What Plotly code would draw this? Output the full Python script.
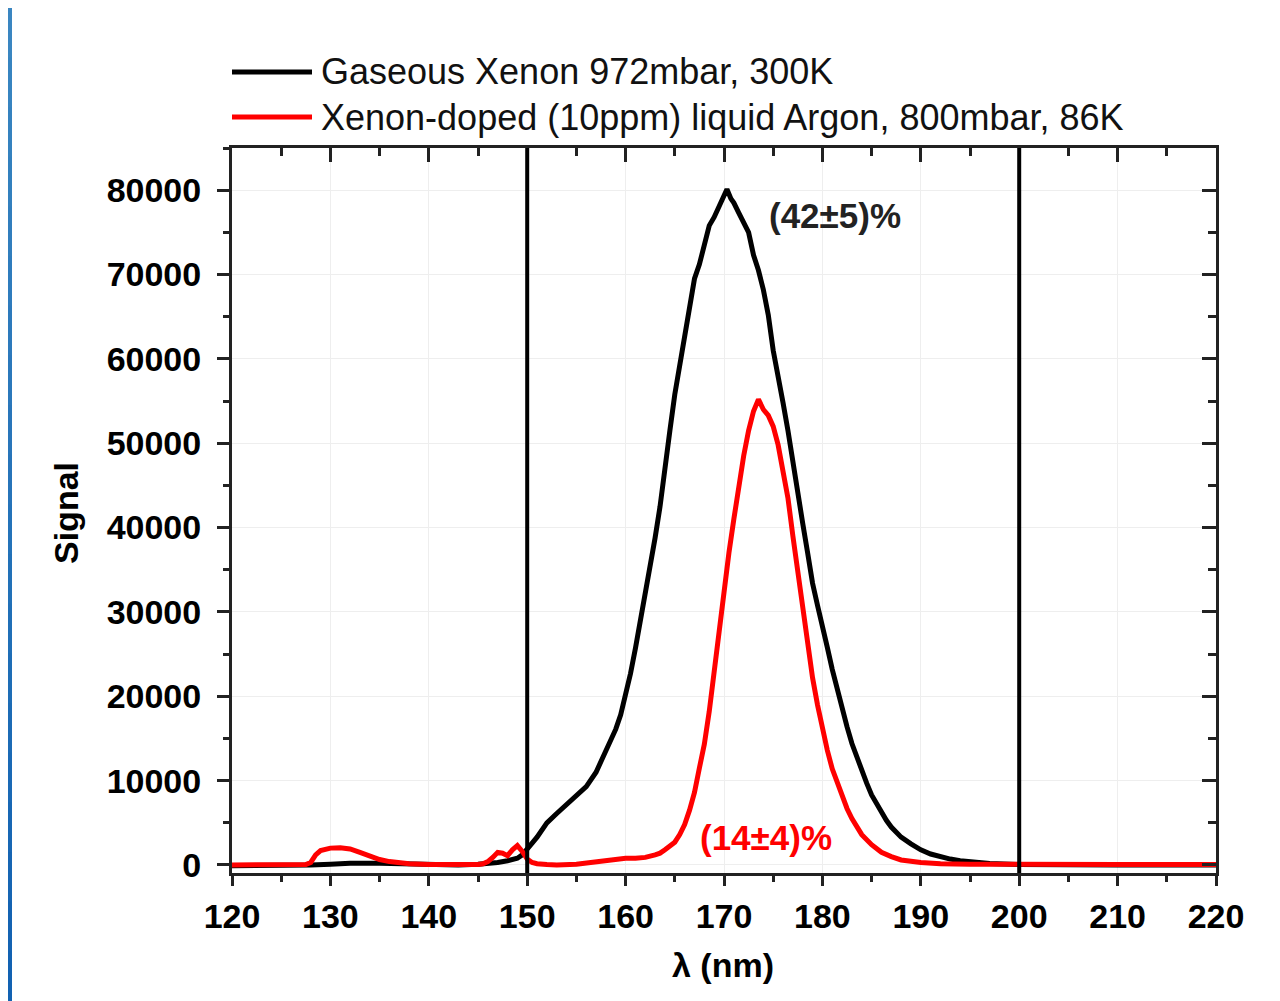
import plotly.graph_objects as go

# ---------------- data ----------------
xe_gas_wl = [120, 122, 125, 127, 128, 130, 132, 135, 138, 140, 143, 145, 146, 147, 148, 149, 149.5,
             150, 150.5, 151, 151.5, 152, 153, 154, 155, 156, 157, 157.5, 158, 158.5, 159, 159.5,
             160, 160.5, 161, 161.5, 162, 162.5, 163, 163.5, 164, 164.5, 165, 165.5, 166, 166.5,
             167, 167.5, 168, 168.5, 169, 169.5, 170, 170.3, 170.7, 171, 171.5, 172, 172.5, 173,
             173.5, 174, 174.5, 175, 175.5, 176, 176.5, 177, 177.5, 178, 178.5, 179, 179.5, 180,
             180.5, 181, 181.5, 182, 182.5, 183, 183.5, 184, 184.5, 185, 185.5, 186, 186.5, 187,
             187.5, 188, 189, 190, 191, 192, 193, 194, 195, 197, 200, 205, 210, 220]
xe_gas_sig = [-100, -100, -100, -100, 0, 100, 200, 200, 100, 0, 0, 100, 150, 300, 500, 800, 1200,
              1800, 2600, 3300, 4100, 5000, 6100, 7200, 8200, 9300, 11000, 12200, 13500, 14800, 16100, 17800,
              20000, 22700, 25700, 28800, 32000, 35400, 38800, 42500, 46500, 51500, 55800, 59300, 62500, 66500,
              69500, 71200, 73800, 75800, 76800, 78000, 79500, 80100, 79000, 78500, 77300, 76000, 75000, 72300,
              70500, 68200, 65200, 61000, 57500, 54800, 51500, 47500, 43500, 40500, 37000, 33400, 30800, 28000,
              25800, 23200, 20800, 18400, 16400, 14400, 12700, 11000, 9700, 8300, 7200, 6200, 5300, 4500,
              3900, 3300, 2500, 1800, 1300, 950, 700, 500, 350, 180, 60, 0, 0, 0]

xe_lar_wl = [120, 125, 127.5, 128, 128.5, 129, 129.5, 130, 131, 132, 133, 134, 135, 136, 137, 138, 140,
             143, 145, 145.5, 146, 146.5, 147, 147.5, 148, 148.5, 149, 149.5, 150, 150.5, 151, 152, 153,
             155, 157, 159, 160, 161, 162, 163, 163.5, 164, 164.5, 165, 165.5, 166, 166.5, 167, 167.5,
             168, 168.5, 169, 169.5, 170, 170.5, 171, 171.5, 172, 172.5, 173, 173.5, 174, 174.5, 175,
             175.5, 176, 176.5, 177, 177.5, 178, 178.5, 179, 179.5, 180, 180.5, 181, 181.5, 182, 182.5,
             183, 184, 185, 186, 187, 188, 190, 192, 195, 200, 210, 220]
xe_lar_sig = [0, 0, 50, 300, 1200, 1700, 1900, 2000, 2050, 1900, 1500, 1000, 650, 400, 250, 150, 50,
              0, 50, 150, 400, 900, 1500, 1400, 1100, 1800, 2300, 1600, 700, 300, 150, 50, 0,
              100, 400, 700, 800, 800, 900, 1200, 1400, 1800, 2200, 2700, 3600, 4800, 6500, 8600, 11500,
              14300, 18200, 23000, 28500, 33000, 37000, 41000, 45000, 48500, 51500, 53800, 55200, 54000, 53300, 52000,
              49800, 46800, 43500, 39000, 34600, 30200, 26000, 22200, 19000, 16100, 13600, 11400, 9700, 8100, 6700,
              5500, 3600, 2400, 1500, 1000, 600, 300, 150, 100, 50, 50, 50]

series_names = ["Gaseous Xenon 972mbar, 300K",
                "Xenon-doped (10ppm) liquid Argon, 800mbar, 86K"]
series_colors = ["#000000", "#ff0000"]
window_edges = [150, 200]
labels_text = ["(42\u00b15)%", "(14\u00b14)%"]
labels_x = [181.3, 174.3]
labels_y = [77000, 3200]

x_ticks = list(range(120, 221, 10))
y_ticks = list(range(0, 80001, 10000))

# ---------------- figure ----------------
FONT = "Arial, Liberation Sans, sans-serif"
OFF = 8                      # page body margin
W, H = 1280 - OFF, 1001 - OFF
L, T = 232 - OFF, 148 - OFF
PW, PH = 984, 725
R, B = W - L - PW, H - T - PH


def xp(px):  # page pixel -> paper
    return (px - OFF - L) / PW


def yp(py):
    return (T + PH - (py - OFF)) / PH


fig = go.Figure()
for wl, sig, name, col in [(xe_gas_wl, xe_gas_sig, series_names[0], series_colors[0]),
                           (xe_lar_wl, xe_lar_sig, series_names[1], series_colors[1])]:
    fig.add_trace(go.Scatter(x=wl, y=sig, mode="lines", name=name,
                             line=dict(color=col, width=5), showlegend=False))
# empty trace so the mirrored (top/right) frame axes get drawn
fig.add_trace(go.Scatter(x=[None], y=[None], xaxis="x2", yaxis="y2", mode="lines",
                         showlegend=False, hoverinfo="skip"))

shapes = []
# blue slide border (visible part)
nseg = 20
for i in range(nseg):
    t = i / (nseg - 1)
    r = int(0x3a + (0x12 - 0x3a) * t)
    g = int(0x86 + (0x62 - 0x86) * t)
    b = int(0xc1 + (0xb2 - 0xc1) * t)
    y0 = OFF + i * H / nseg
    y1 = OFF + (i + 1) * H / nseg + 1
    shapes.append(dict(type="rect", xref="paper", yref="paper", x0=xp(OFF), x1=xp(12),
                       y0=yp(y0), y1=yp(y1), fillcolor=f"rgb({r},{g},{b})",
                       line=dict(width=0), layer="below"))
# window edges
for e in window_edges:
    shapes.append(dict(type="line", xref="x", yref="paper", x0=e, x1=e, y0=0, y1=1,
                       line=dict(color="black", width=4)))
# legend samples
for i, col in enumerate(series_colors):
    yy = yp(72 + 45 * i)
    shapes.append(dict(type="line", xref="paper", yref="paper", x0=xp(232), x1=xp(312),
                       y0=yy, y1=yy, line=dict(color=col, width=5)))

annotations = []
for i, name in enumerate(series_names):
    annotations.append(dict(xref="paper", yref="paper", x=xp(319), y=yp(72 + 45 * i),
                            xanchor="left", yanchor="middle", text=name, showarrow=False,
                            font=dict(family=FONT, size=36, color="#111111")))
for txt, lx, ly, col in zip(labels_text, labels_x, labels_y, series_colors):
    annotations.append(dict(x=lx, y=ly, xref="x", yref="y", text=txt, showarrow=False,
                            xanchor="center", yanchor="middle",
                            font=dict(family=FONT, size=35, color=col if col != "#000000" else "#222222",
                                      weight="bold")))
annotations.append(dict(xref="paper", yref="paper", x=xp(66), y=yp(513), text="Signal", textangle=-90,
                        showarrow=False, xanchor="center", yanchor="middle",
                        font=dict(family=FONT, size=34, color="black", weight="bold")))
annotations.append(dict(xref="paper", yref="paper", x=xp(723), y=yp(965), text="\u03bb (nm)",
                        showarrow=False, xanchor="center", yanchor="middle",
                        font=dict(family=FONT, size=34, color="black", weight="bold")))

tickfont = dict(family=FONT, size=34, color="black", weight="bold")
axis_common = dict(showline=True, linecolor="#222222", linewidth=3, zeroline=False,
                   tickcolor="#222222", tickwidth=2.5, showgrid=True, gridcolor="#eeeeee", gridwidth=1)

fig.update_layout(
    width=W, height=H,
    margin=dict(l=L, r=R, t=T, b=B, pad=0),
    paper_bgcolor="white", plot_bgcolor="white",
    showlegend=False,
    shapes=shapes, annotations=annotations,
    xaxis=dict(range=[120, 220], tickvals=x_ticks, ticks="outside", ticklen=10,
               minor=dict(dtick=5, tick0=120, ticks="outside", ticklen=6, tickcolor="#222222", tickwidth=2.5,
                          showgrid=False),
               tickfont=tickfont, ticklabelstandoff=1, **axis_common),
    yaxis=dict(range=[-950, 85000], tickvals=y_ticks, tickformat="d", ticks="outside", ticklen=12,
               minor=dict(dtick=5000, tick0=0, ticks="outside", ticklen=6, tickcolor="#222222", tickwidth=2.5,
                          showgrid=False),
               tickfont=tickfont, ticklabelstandoff=9, **axis_common),
    xaxis2=dict(range=[120, 220], overlaying="x", side="top", tickvals=x_ticks, ticks="inside", ticklen=14,
                minor=dict(dtick=5, tick0=120, ticks="inside", ticklen=8, tickcolor="#222222", tickwidth=2.5),
                showticklabels=False, showline=True, linecolor="#222222", linewidth=3,
                tickcolor="#222222", tickwidth=2.5, showgrid=False, zeroline=False),
    yaxis2=dict(range=[-950, 85000], overlaying="y", side="right", tickvals=y_ticks, ticks="inside", ticklen=14,
                minor=dict(dtick=5000, tick0=0, ticks="inside", ticklen=8, tickcolor="#222222", tickwidth=2.5),
                showticklabels=False, showline=True, linecolor="#222222", linewidth=3,
                tickcolor="#222222", tickwidth=2.5, showgrid=False, zeroline=False),
)

fig.write_html("out.html")
